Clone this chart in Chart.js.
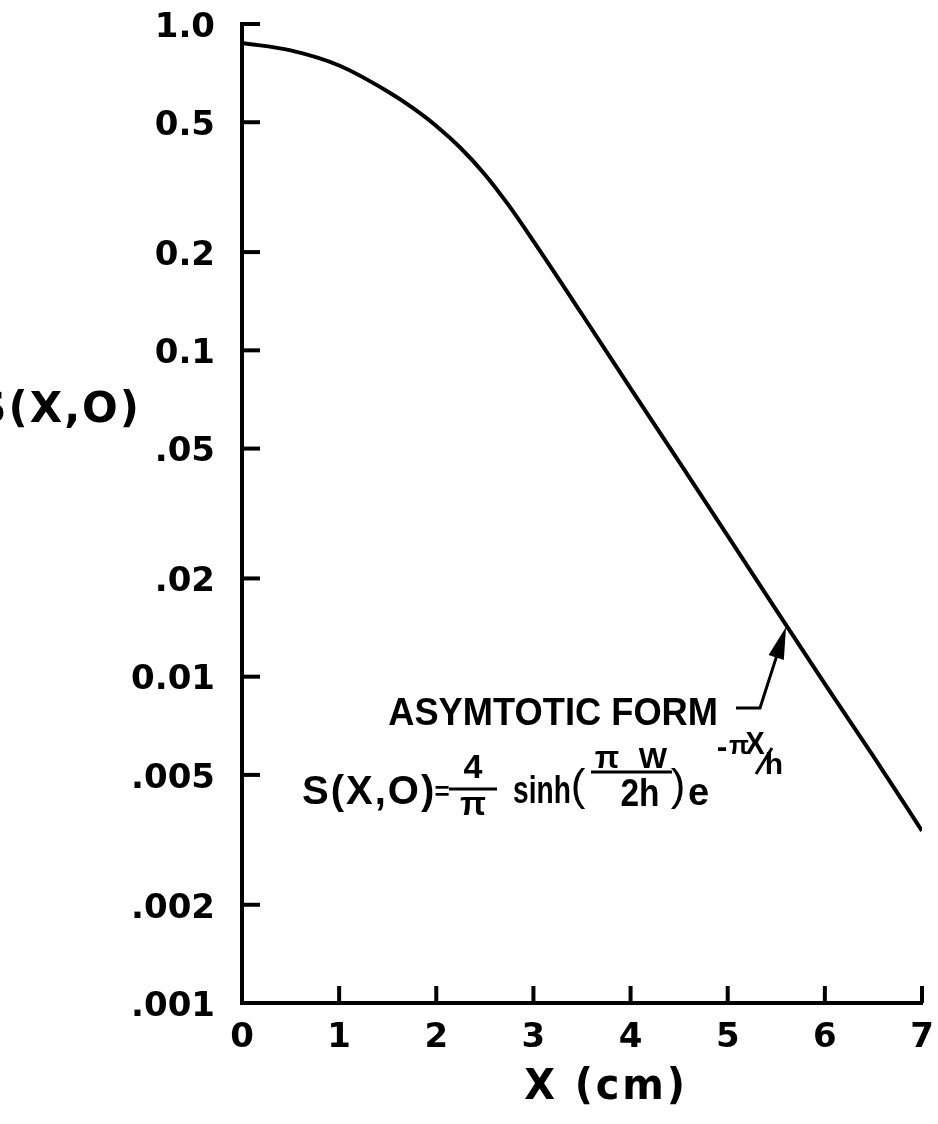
<!DOCTYPE html>
<html>
<head>
<meta charset="utf-8">
<script src="https://cdn.jsdelivr.net/npm/chart.js@4/dist/chart.umd.min.js"></script>
<style>
  html, body { margin: 0; padding: 0; background: #fff; }
  #wrap { width: 938px; height: 1124px; }
</style>
</head>
<body>
<div id="wrap"><canvas id="c" width="938" height="1124"></canvas></div>
<script>
// S(X,0) along the axis, distance X in cm
const xValues = [0, 0.5, 1, 1.5, 1.75, 2, 2.25, 2.5, 2.75, 3, 3.5, 4, 4.5, 5, 5.5, 6, 6.5, 7];
const sValues = [0.875, 0.83, 0.746, 0.621, 0.555, 0.487, 0.417, 0.346, 0.277, 0.216, 0.129, 0.0765, 0.0455, 0.027, 0.016, 0.0095, 0.0057, 0.00337];

const xTickValues = [0, 1, 2, 3, 4, 5, 6, 7];
const xTickLabels = ['0', '1', '2', '3', '4', '5', '6', '7'];
const yTickValues = [0.001, 0.002, 0.005, 0.01, 0.02, 0.05, 0.1, 0.2, 0.5, 1];
const yTickLabels = ['.001', '.002', '.005', '0.01', '.02', '.05', '0.1', '0.2', '0.5', '1.0'];

const xTitle = 'X (cm)';
const yTitle = 'S(X,O)';
const noteLabel = 'ASYMTOTIC FORM';
// point on the curve the note's arrow points at
const noteTarget = { x: 5.6, y: 0.0142 };

const INK = '#000';

function drawText(ctx, str, px, py, size, family, align, squeeze, spacing, weight) {
  ctx.save();
  ctx.font = (weight || 'bold') + ' ' + size + 'px "' + family + '"';
  ctx.textAlign = align;
  ctx.textBaseline = 'alphabetic';
  ctx.fillStyle = INK;
  if (spacing && 'letterSpacing' in ctx) ctx.letterSpacing = spacing;
  ctx.translate(px, py);
  ctx.scale(squeeze || 1, 1);
  ctx.fillText(str, 0, 0);
  ctx.restore();
}

function line(ctx, pts, w) {
  ctx.save();
  ctx.strokeStyle = INK;
  ctx.lineWidth = w;
  ctx.lineCap = 'butt';
  ctx.lineJoin = 'miter';
  ctx.beginPath();
  ctx.moveTo(pts[0][0], pts[0][1]);
  for (let i = 1; i < pts.length; i++) ctx.lineTo(pts[i][0], pts[i][1]);
  ctx.stroke();
  ctx.restore();
}

// inward tick marks on both axes
const inwardTicks = {
  id: 'inwardTicks',
  afterDatasetsDraw(chart) {
    const { ctx, chartArea: a, scales } = chart;
    yTickValues.forEach(v => {
      if (v === scales.y.min) return;
      const py = scales.y.getPixelForValue(v);
      line(ctx, [[a.left, py], [a.left + 18, py]], 4);
    });
    xTickValues.forEach(v => {
      if (v === scales.x.min) return;
      const px = scales.x.getPixelForValue(v);
      line(ctx, [[px, a.bottom], [px, a.bottom - 17]], 4);
    });
  }
};

// axis names, the asymptotic-form note and its formula
const notes = {
  id: 'notes',
  afterDraw(chart) {
    const { ctx, chartArea: a, scales } = chart;
    const L = a.left, T = a.top, B = a.bottom;
    const SANS = 'Liberation Sans';

    // axis names, both written horizontally
    drawText(ctx, yTitle, 141, 422, 42, 'DejaVu Sans', 'right', 1, '2px');
    drawText(ctx, xTitle, L + 364, B + 96, 42, 'DejaVu Sans', 'center', 0.95, '3px');

    // note label
    const labelRight = L + 476, labelBase = T + 701;
    drawText(ctx, noteLabel, labelRight, labelBase, 39, SANS, 'right', 0.93, '0px');

    // leader line and arrow to the curve
    const tx = scales.x.getPixelForValue(noteTarget.x);
    const ty = scales.y.getPixelForValue(noteTarget.y);
    const k0 = [labelRight + 18, labelBase - 17];
    const k1 = [labelRight + 42, labelBase - 17];
    const dx = tx - k1[0], dy = ty - k1[1];
    const len = Math.hypot(dx, dy), ux = dx / len, uy = dy / len;
    const headLen = 32, headHalf = 8;
    const bx = tx - ux * headLen, by = ty - uy * headLen;
    line(ctx, [k0, k1, [bx + ux * 4, by + uy * 4]], 3);
    ctx.save();
    ctx.fillStyle = INK;
    ctx.beginPath();
    ctx.moveTo(tx, ty);
    ctx.lineTo(bx - uy * headHalf, by + ux * headHalf);
    ctx.lineTo(bx + uy * headHalf, by - ux * headHalf);
    ctx.closePath();
    ctx.fill();
    ctx.restore();

    // S(X,O) = 4/pi sinh(pi W / 2h) e^(-pi X/h)
    const fx = L + 60, fb = T + 780;
    drawText(ctx, 'S(X,O)', fx, fb, 40, SANS, 'left', 1, '2px');
    drawText(ctx, '=', fx + 140, fb - 4, 26, SANS, 'center', 1);
    drawText(ctx, '4', fx + 171, fb - 26, 34, SANS, 'center', 1);
    line(ctx, [[fx + 147, fb - 15], [fx + 195, fb - 15]], 3);
    drawText(ctx, 'π', fx + 171, fb + 11, 34, SANS, 'center', 1);
    drawText(ctx, 'sinh', fx + 211, fb - 1, 38, SANS, 'left', 0.74);
    drawText(ctx, '(', fx + 276, fb - 4, 44, SANS, 'center', 1, null, 'normal');
    drawText(ctx, 'π', fx + 305, fb - 36, 32, SANS, 'center', 1);
    drawText(ctx, 'W', fx + 351, fb - 36, 30, SANS, 'center', 1);
    line(ctx, [[fx + 289, fb - 32], [fx + 370, fb - 32]], 3);
    drawText(ctx, '2h', fx + 338, fb + 2, 38, SANS, 'center', 0.88);
    drawText(ctx, ')', fx + 376, fb - 4, 44, SANS, 'center', 1, null, 'normal');
    drawText(ctx, 'e', fx + 386, fb + 1, 38, SANS, 'left', 1);
    drawText(ctx, '-', fx + 420, fb - 47, 32, SANS, 'center', 1);
    drawText(ctx, 'π', fx + 437, fb - 50, 26, SANS, 'center', 1);
    drawText(ctx, 'X', fx + 453, fb - 50, 32, SANS, 'center', 0.9);
    line(ctx, [[fx + 454, fb - 30], [fx + 470, fb - 56]], 3);
    drawText(ctx, 'h', fx + 472, fb - 30, 30, SANS, 'center', 1);
  }
};

const points = xValues.map((x, i) => ({ x: x, y: sValues[i] }));

new Chart(document.getElementById('c'), {
  type: 'line',
  data: {
    datasets: [{
      data: points,
      borderColor: INK,
      borderWidth: 4,
      pointRadius: 0,
      fill: false,
      cubicInterpolationMode: 'monotone'
    }]
  },
  options: {
    responsive: false,
    animation: false,
    devicePixelRatio: 1,
    layout: { padding: { top: 24, right: 16, bottom: 0, left: 0 } },
    plugins: { legend: { display: false }, tooltip: { enabled: false } },
    scales: {
      x: {
        type: 'linear',
        min: 0,
        max: 7,
        afterBuildTicks: s => { s.ticks = xTickValues.map(v => ({ value: v })); },
        afterFit: s => { s.height = 121; s.paddingLeft = 0; s.paddingRight = 0; },
        grid: { display: false, drawTicks: false },
        border: { display: true, color: INK, width: 4 },
        ticks: {
          autoSkip: false,
          maxRotation: 0,
          padding: 15,
          color: INK,
          font: { family: 'DejaVu Sans', size: 34, weight: 'bold' },
          callback: (v, i) => xTickLabels[i]
        }
      },
      y: {
        type: 'logarithmic',
        min: 0.001,
        max: 1,
        afterBuildTicks: s => { s.ticks = yTickValues.map(v => ({ value: v })); },
        afterFit: s => { s.width = 242; s.paddingTop = 0; s.paddingBottom = 0; },
        grid: { display: false, drawTicks: false },
        border: { display: true, color: INK, width: 4 },
        ticks: {
          autoSkip: false,
          padding: 27,
          labelOffset: 4,
          color: INK,
          font: { family: 'DejaVu Sans', size: 34, weight: 'bold' },
          callback: (v, i) => yTickLabels[i]
        }
      }
    }
  },
  plugins: [inwardTicks, notes]
});
</script>
</body>
</html>
